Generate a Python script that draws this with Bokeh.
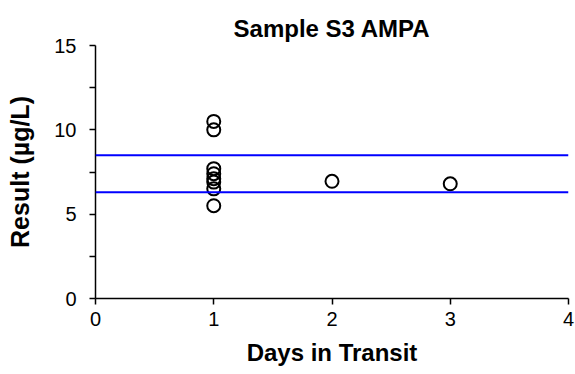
from bokeh.plotting import figure
from bokeh.models import Range1d, FixedTicker, Span
from bokeh.embed import file_html
from bokeh.resources import INLINE

# Data
days = [1, 1, 1, 1, 1, 1, 1, 1, 2, 3]
result = [10.5, 10.0, 7.7, 7.4, 7.1, 6.9, 6.5, 5.5, 6.95, 6.8]
limit_upper = 8.5
limit_lower = 6.3
x_ticks = [0, 1, 2, 3, 4]
y_ticks = [0, 5, 10, 15]
y_minor = [2.5, 7.5, 12.5]

FONT = "Liberation Sans"

p = figure(width=575, height=374, x_range=Range1d(0, 4), y_range=Range1d(0, 15),
           output_backend="svg", toolbar_location=None,
           min_border_left=95, min_border_right=7, min_border_top=45, min_border_bottom=76,
           title="Sample S3 AMPA")
p.outline_line_color = None
p.grid.visible = False
p.background_fill_color = "white"
p.border_fill_color = "white"

p.title.align = "center"
p.title.text_font = FONT
p.title.text_font_size = "24px"
p.title.text_font_style = "bold"
p.title.text_color = "black"
p.title.standoff = 8

for ax in (p.xaxis[0], p.yaxis[0]):
    ax.axis_line_color = "black"
    ax.axis_line_width = 1.5
    ax.major_tick_line_color = "black"
    ax.major_tick_line_width = 1.5
    ax.minor_tick_line_color = "black"
    ax.minor_tick_line_width = 1.5
    ax.major_tick_in = 0
    ax.major_tick_out = 6
    ax.minor_tick_in = 0
    ax.minor_tick_out = 6
    ax.major_label_text_font = FONT
    ax.major_label_text_font_size = "20px"
    ax.major_label_text_color = "black"
    ax.axis_label_text_font = FONT
    ax.axis_label_text_font_style = "bold"
    ax.axis_label_text_color = "black"

p.xaxis.ticker = FixedTicker(ticks=x_ticks, minor_ticks=[])
p.yaxis.ticker = FixedTicker(ticks=y_ticks, minor_ticks=y_minor)
p.xaxis.axis_label = "Days in Transit"
p.yaxis.axis_label = "Result (µg/L)"
p.xaxis.axis_label_text_font_size = "24px"
p.yaxis.axis_label_text_font_size = "25px"
p.xaxis.major_label_standoff = 7
p.yaxis.major_label_standoff = 13
p.xaxis.axis_label_standoff = 10
p.yaxis.axis_label_standoff = 17

p.add_layout(Span(location=limit_upper, dimension="width", line_color="#0000ff", line_width=2))
p.add_layout(Span(location=limit_lower, dimension="width", line_color="#0000ff", line_width=2))

p.scatter(days, result, marker="circle", size=13, fill_color=None,
          line_color="black", line_width=2)

open("out.html", "w").write(file_html(p, INLINE))
